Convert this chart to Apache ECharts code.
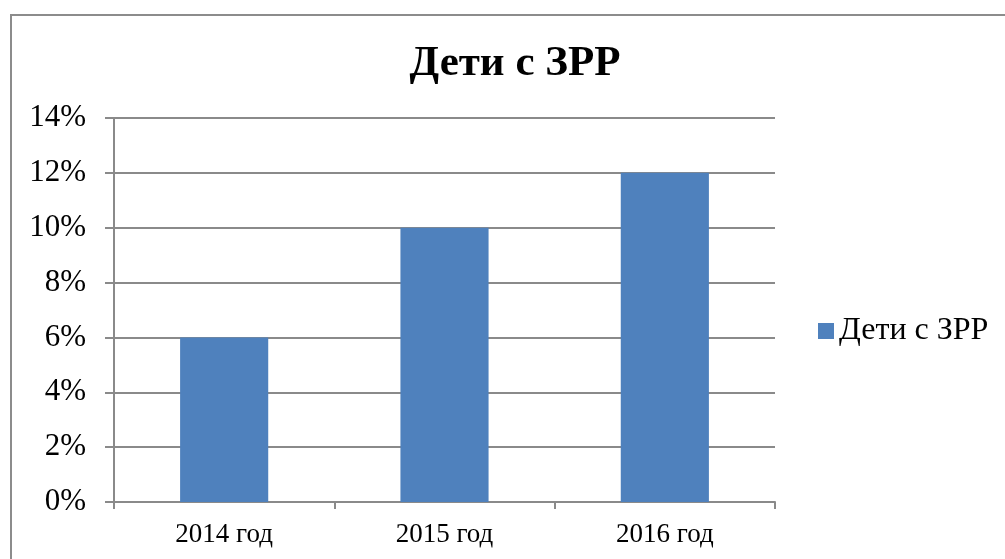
<!DOCTYPE html>
<html lang="ru">
<head>
  <meta charset="UTF-8">
  <title>Дети с ЗРР</title>
  <style>
    body { margin: 0; background: #fff; }
    #frame {
      position: absolute; left: 10px; top: 14px;
      width: 1100px; height: 700px;
      border: 2px solid #8c8c8c;
      box-sizing: border-box;
    }
    #chart { position: absolute; left: 0; top: 0; width: 1005px; height: 559px; }
  </style>
</head>
<body>
  <div id="frame"></div>
  <div id="chart"></div>
  <script src="https://cdn.jsdelivr.net/npm/echarts@6/dist/echarts.min.js"></script>
  <script>
    // данные
    var years = ['2014 год', '2015 год', '2016 год']
    var values = [6, 10, 12]
    var seriesName = 'Дети с ЗРР'
    var yTicks = [0, 2, 4, 6, 8, 10, 12, 14]

    let chart = echarts.init(document.getElementById('chart'))
    var serif = '"Liberation Serif", "DejaVu Serif", serif'
    var lineColor = '#8a8a8a'

    var option = {
      backgroundColor: 'transparent',
      animation: false,
      title: {
        text: 'Дети с ЗРР',
        left: 510,
        top: 37,
        textAlign: 'center',
        textStyle: { fontFamily: serif, fontSize: 43, fontWeight: 'bold', color: '#000' }
      },
      legend: {
        data: [seriesName],
        left: 813,
        top: 310,
        orient: 'vertical',
        itemWidth: 16,
        itemHeight: 16,
        icon: 'rect',
        itemGap: 4,
        textStyle: { fontFamily: serif, fontSize: 32, color: '#000' }
      },
      grid: { left: 114, right: 230, top: 118, bottom: 57 },
      xAxis: {
        type: 'category',
        data: years,
        axisLine: { lineStyle: { color: lineColor, width: 2 } },
        axisTick: { show: true, length: 7, lineStyle: { color: lineColor, width: 2 } },
        axisLabel: { fontFamily: serif, fontSize: 27, color: '#000', margin: 19 }
      },
      yAxis: {
        type: 'value',
        min: yTicks[0],
        max: yTicks[yTicks.length - 1],
        interval: 2,
        axisLine: { show: true, lineStyle: { color: lineColor, width: 2 } },
        axisTick: { show: true, length: 9, lineStyle: { color: lineColor, width: 2 } },
        splitLine: { lineStyle: { color: lineColor, width: 2 } },
        axisLabel: {
          fontFamily: serif, fontSize: 31, color: '#000', margin: 28,
          formatter: function (v) { return v + '%' }
        }
      },
      series: [{
        name: seriesName,
        type: 'bar',
        data: values,
        barWidth: '40%',
        itemStyle: { color: '#4f81bd' }
      }]
    }
    chart.setOption(option)
  </script>
</body>
</html>
